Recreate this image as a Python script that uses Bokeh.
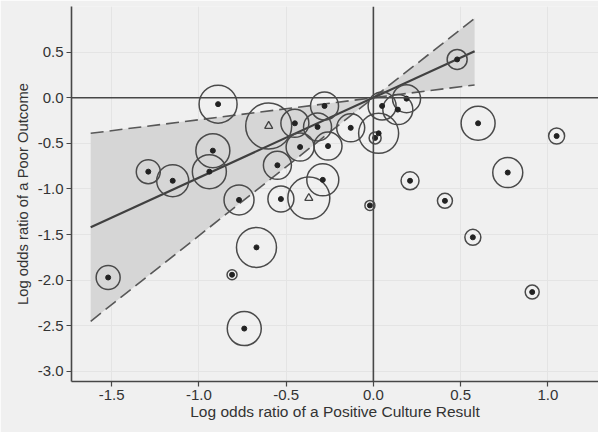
from bokeh.plotting import figure
from bokeh.models import Span, FixedTicker, NumeralTickFormatter, ColumnDataSource
from bokeh.embed import file_html
from bokeh.resources import INLINE

# ---- data ----
log_or_culture = [-0.89, -0.60, -0.45, -0.28, -0.32, -0.13, 0.05, 0.14, 0.19, 0.03,
                  0.01, -0.92, -0.94, -1.29, -1.15, -0.77, -0.55, -0.42, -0.26, -0.29,
                  -0.37, -0.53, -0.67, -0.81, -0.74, -1.52, -0.02, 0.21, 0.48, 0.60,
                  1.05, 0.77, 0.41, 0.57, 0.91]
log_or_outcome = [-0.07, -0.31, -0.28, -0.09, -0.32, -0.33, -0.09, -0.13, -0.01, -0.39,
                  -0.44, -0.58, -0.81, -0.81, -0.91, -1.12, -0.74, -0.54, -0.53, -0.90,
                  -1.10, -1.11, -1.64, -1.94, -2.53, -1.97, -1.18, -0.91, 0.42, -0.28,
                  -0.42, -0.82, -1.13, -1.53, -2.13]
study_weight = [19, 23, 14, 14, 14, 14, 14, 15, 14, 20,
                6, 17, 17, 12, 16, 15, 14, 14, 14, 16,
                21, 13, 20, 5, 17, 12, 5, 9, 10, 17,
                8, 15, 7.5, 8, 7]
design = ["A"] * 35
design[1] = "B"
design[20] = "B"

fit_x = [-1.62, 0.58]
fit_y = [-1.42, 0.51]
band_x = [-1.62, 0.0, 0.58]
band_lower = [-2.45, 0.0, 0.14]
band_upper = [-0.39, 0.0, 0.87]

x_ticks = [-1.5, -1.0, -0.5, 0.0, 0.5, 1.0]
y_ticks = [0.5, 0.0, -0.5, -1.0, -1.5, -2.0, -2.5, -3.0]

BG = "#f0f0f0"
INK = "#474747"
FONT = "Liberation Sans"

p = figure(width=598, height=432, output_backend="svg", toolbar_location=None,
           x_range=(-1.73, 1.29), y_range=(-3.11, 1.0),
           min_border_left=71, min_border_right=0, min_border_top=6, min_border_bottom=51)
p.background_fill_color = BG
p.border_fill_color = BG
p.outline_line_color = None

p.xgrid.grid_line_color = "#e4e4e4"
p.ygrid.grid_line_color = "#e4e4e4"
p.xgrid.ticker = FixedTicker(ticks=x_ticks)
p.ygrid.ticker = FixedTicker(ticks=y_ticks)

for ax in (p.xaxis, p.yaxis):
    ax.axis_line_color = INK
    ax.axis_line_width = 1.6
    ax.major_tick_line_color = INK
    ax.major_tick_line_width = 1.2
    ax.major_tick_out = 5
    ax.major_tick_in = 0
    ax.minor_tick_line_color = None
    ax.major_label_text_font = FONT
    ax.major_label_text_font_size = "15px"
    ax.major_label_text_color = "#333333"
    ax.axis_label_text_font = FONT
    ax.axis_label_text_font_style = "normal"
    ax.axis_label_text_color = "#333333"
    ax.formatter = NumeralTickFormatter(format="0.0")

p.xaxis.axis_label_text_font_size = "15.5px"
p.yaxis.axis_label_text_font_size = "14.8px"
p.xaxis.ticker = FixedTicker(ticks=x_ticks)
p.yaxis.ticker = FixedTicker(ticks=y_ticks)
p.xaxis.axis_label = "Log odds ratio of a Positive Culture Result"
p.yaxis.axis_label = "Log odds ratio of a Poor Outcome"
p.xaxis.axis_label_standoff = 0
p.yaxis.axis_label_standoff = 4
p.xaxis.major_label_standoff = 3
p.yaxis.major_label_standoff = 3

# confidence band
p.varea(x=band_x, y1=band_lower, y2=band_upper, fill_color="#d6d6d6")
p.line(band_x, band_lower, line_color="#585858", line_width=1.6, line_dash="13 6")
p.line(band_x, band_upper, line_color="#585858", line_width=1.6, line_dash="13 6")

# reference lines
p.add_layout(Span(location=0, dimension="width", line_color=INK, line_width=1.6))
p.add_layout(Span(location=0, dimension="height", line_color=INK, line_width=1.6))

# regression line
p.line(fit_x, fit_y, line_color="#404040", line_width=2.2)

src = ColumnDataSource(dict(x=log_or_culture, y=log_or_outcome,
                            size=[2 * w for w in study_weight], design=design))
p.scatter("x", "y", size="size", source=src, marker="circle",
          fill_color=None, line_color="#4a4a4a", line_width=1.5)

dots = ColumnDataSource(dict(
    x=[x for x, d in zip(log_or_culture, design) if d == "A"],
    y=[y for y, d in zip(log_or_outcome, design) if d == "A"]))
tris = ColumnDataSource(dict(
    x=[x for x, d in zip(log_or_culture, design) if d == "B"],
    y=[y for y, d in zip(log_or_outcome, design) if d == "B"]))
p.scatter("x", "y", source=dots, marker="circle", size=5,
          fill_color="#222222", line_color="#222222")
p.scatter("x", "y", source=tris, marker="triangle", size=8,
          fill_color=None, line_color="#444444", line_width=1.3)

open("out.html", "w").write(file_html(p, INLINE))
